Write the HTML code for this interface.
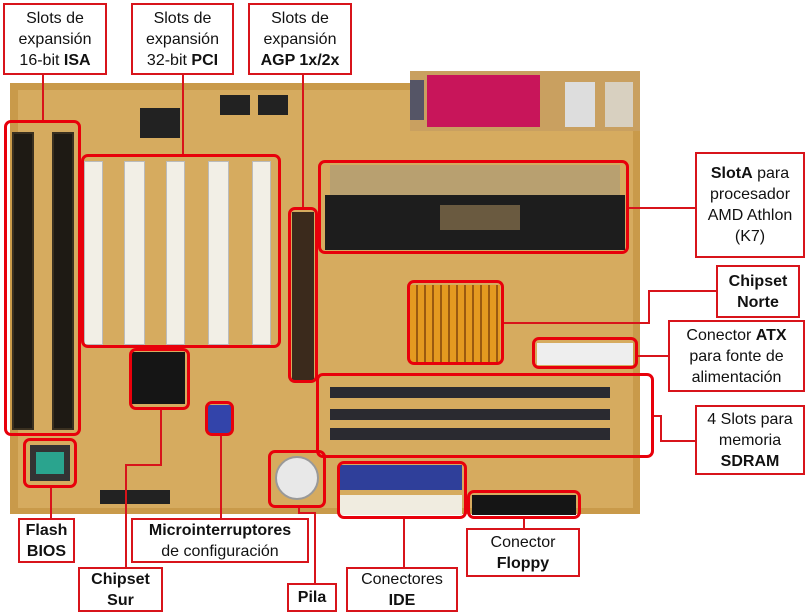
<!DOCTYPE html><html><head><meta charset="utf-8"><style>
body{margin:0;width:811px;height:615px;background:#fff;position:relative;overflow:hidden;font-family:"Liberation Sans",sans-serif}
div{position:absolute;box-sizing:border-box}
.r{border:3px solid #e8000b;border-radius:7px}
.l{border:2px solid #d8141b;background:#fff;text-align:center;font-size:16px;line-height:21px;color:#111;display:flex;align-items:center;justify-content:center}
.ln{background:#d8141b}
.isa{background:#1e1a14;border:2px solid #3a3020}
.pci{background:#f2efe6;border:1px solid #bbb}
.mem{background:#2a2a30}
</style></head><body>
<!-- board -->
<div style="left:10px;top:83px;width:630px;height:431px;background:#c99a4a"></div>
<div style="left:18px;top:90px;width:615px;height:418px;background:#d6ab5f"></div>
<div style="left:410px;top:71px;width:230px;height:60px;background:#c9a060"></div>
<div style="left:427px;top:75px;width:113px;height:52px;background:#c8155a"></div>
<div style="left:565px;top:82px;width:30px;height:45px;background:#ddd"></div>
<div style="left:605px;top:82px;width:28px;height:45px;background:#d8d0c0"></div>
<div style="left:410px;top:80px;width:14px;height:40px;background:#556"></div>
<div style="left:140px;top:108px;width:40px;height:30px;background:#222"></div>
<div style="left:220px;top:95px;width:30px;height:20px;background:#222"></div>
<div style="left:258px;top:95px;width:30px;height:20px;background:#222"></div>
<!-- ISA -->
<div class="isa" style="left:12px;top:132px;width:22px;height:298px"></div>
<div class="isa" style="left:52px;top:132px;width:22px;height:298px"></div>
<!-- PCI -->
<div class="pci" style="left:84px;top:161px;width:19px;height:184px"></div>
<div class="pci" style="left:124px;top:161px;width:21px;height:184px"></div>
<div class="pci" style="left:166px;top:161px;width:19px;height:184px"></div>
<div class="pci" style="left:208px;top:161px;width:21px;height:184px"></div>
<div class="pci" style="left:252px;top:161px;width:19px;height:184px"></div>
<!-- AGP -->
<div style="left:292px;top:212px;width:22px;height:168px;background:#3b2a1c"></div>
<!-- SlotA -->
<div style="left:330px;top:165px;width:290px;height:30px;background:#b8a070"></div>
<div style="left:325px;top:195px;width:300px;height:55px;background:#1d1d1d"></div>
<div style="left:440px;top:205px;width:80px;height:25px;background:#6a5a40"></div>
<!-- norte -->
<div style="left:410px;top:285px;width:90px;height:77px;background:repeating-linear-gradient(90deg,#e49a20 0 6px,#9a5a10 6px 8px),#e49a20"></div>
<!-- ATX -->
<div style="left:537px;top:343px;width:96px;height:22px;background:#eee"></div>
<!-- memory -->
<div class="mem" style="left:330px;top:387px;width:280px;height:11px"></div>
<div class="mem" style="left:330px;top:409px;width:280px;height:11px"></div>
<div class="mem" style="left:330px;top:428px;width:280px;height:12px"></div>
<!-- sur -->
<div style="left:131px;top:352px;width:54px;height:52px;background:#151515"></div>
<div style="left:208px;top:405px;width:23px;height:28px;background:#3344aa"></div>
<div style="left:30px;top:445px;width:40px;height:36px;background:#333"></div>
<div style="left:36px;top:452px;width:28px;height:22px;background:#2aa48e"></div>
<!-- pila -->
<div style="left:275px;top:456px;width:44px;height:44px;border-radius:50%;background:#e8e8e8;border:2px solid #999"></div>
<!-- IDE / floppy -->
<div style="left:340px;top:465px;width:122px;height:25px;background:#2f3f9a"></div>
<div style="left:340px;top:495px;width:122px;height:20px;background:#f0ece0"></div>
<div style="left:472px;top:495px;width:104px;height:20px;background:#151515"></div>
<div style="left:100px;top:490px;width:70px;height:14px;background:#222"></div>
<!-- red boxes -->
<div class="r" style="left:4px;top:120px;width:77px;height:316px"></div>
<div class="r" style="left:81px;top:154px;width:200px;height:194px"></div>
<div class="r" style="left:288px;top:207px;width:30px;height:176px"></div>
<div class="r" style="left:318px;top:160px;width:311px;height:94px"></div>
<div class="r" style="left:407px;top:280px;width:97px;height:85px"></div>
<div class="r" style="left:532px;top:337px;width:106px;height:32px"></div>
<div class="r" style="left:316px;top:373px;width:338px;height:85px"></div>
<div class="r" style="left:129px;top:348px;width:61px;height:62px"></div>
<div class="r" style="left:205px;top:401px;width:29px;height:35px"></div>
<div class="r" style="left:23px;top:438px;width:54px;height:50px"></div>
<div class="r" style="left:268px;top:450px;width:58px;height:58px"></div>
<div class="r" style="left:337px;top:461px;width:130px;height:58px"></div>
<div class="r" style="left:467px;top:490px;width:114px;height:29px"></div>
<!-- lines -->
<div class="ln" style="left:42px;top:75px;width:2px;height:45px"></div>
<div class="ln" style="left:182px;top:75px;width:2px;height:79px"></div>
<div class="ln" style="left:302px;top:75px;width:2px;height:132px"></div>
<div class="ln" style="left:629px;top:207px;width:66px;height:2px"></div>
<div class="ln" style="left:504px;top:322px;width:146px;height:2px"></div>
<div class="ln" style="left:648px;top:290px;width:2px;height:34px"></div>
<div class="ln" style="left:648px;top:290px;width:68px;height:2px"></div>
<div class="ln" style="left:638px;top:355px;width:30px;height:2px"></div>
<div class="ln" style="left:654px;top:415px;width:8px;height:2px"></div>
<div class="ln" style="left:660px;top:415px;width:2px;height:26px"></div>
<div class="ln" style="left:660px;top:440px;width:35px;height:2px"></div>
<div class="ln" style="left:50px;top:488px;width:2px;height:30px"></div>
<div class="ln" style="left:220px;top:436px;width:2px;height:82px"></div>
<div class="ln" style="left:160px;top:410px;width:2px;height:55px"></div>
<div class="ln" style="left:125px;top:464px;width:37px;height:2px"></div>
<div class="ln" style="left:125px;top:464px;width:2px;height:103px"></div>
<div class="ln" style="left:298px;top:508px;width:2px;height:6px"></div>
<div class="ln" style="left:298px;top:512px;width:17px;height:2px"></div>
<div class="ln" style="left:314px;top:512px;width:2px;height:71px"></div>
<div class="ln" style="left:403px;top:519px;width:2px;height:48px"></div>
<div class="ln" style="left:523px;top:519px;width:2px;height:9px"></div>
<!-- labels -->
<div class="l" style="left:3px;top:3px;width:104px;height:72px"><span>Slots de<br>expansión<br>16-bit <b>ISA</b></span></div>
<div class="l" style="left:131px;top:3px;width:103px;height:72px"><span>Slots de<br>expansión<br>32-bit <b>PCI</b></span></div>
<div class="l" style="left:248px;top:3px;width:104px;height:72px"><span>Slots de<br>expansión<br><b>AGP 1x/2x</b></span></div>
<div class="l" style="left:695px;top:152px;width:110px;height:106px"><span><b>SlotA</b> para<br>procesador<br>AMD Athlon<br>(K7)</span></div>
<div class="l" style="left:716px;top:265px;width:84px;height:53px"><span><b>Chipset<br>Norte</b></span></div>
<div class="l" style="left:668px;top:320px;width:137px;height:72px"><span>Conector <b>ATX</b><br>para fonte de<br>alimentación</span></div>
<div class="l" style="left:695px;top:405px;width:110px;height:70px"><span>4 Slots para<br>memoria<br><b>SDRAM</b></span></div>
<div class="l" style="left:18px;top:518px;width:57px;height:45px"><span><b>Flash<br>BIOS</b></span></div>
<div class="l" style="left:131px;top:518px;width:178px;height:45px"><span><b>Microinterruptores</b><br>de configuración</span></div>
<div class="l" style="left:78px;top:567px;width:85px;height:45px"><span><b>Chipset<br>Sur</b></span></div>
<div class="l" style="left:287px;top:583px;width:50px;height:29px"><span><b>Pila</b></span></div>
<div class="l" style="left:346px;top:567px;width:112px;height:45px"><span>Conectores<br><b>IDE</b></span></div>
<div class="l" style="left:466px;top:528px;width:114px;height:49px"><span>Conector<br><b>Floppy</b></span></div>
</body></html>
